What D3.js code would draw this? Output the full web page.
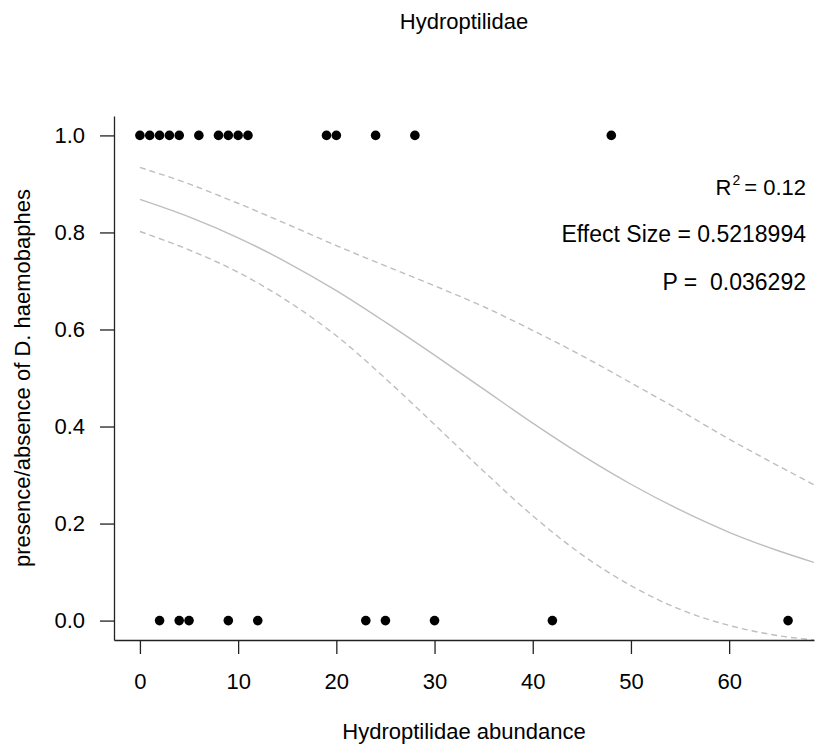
<!DOCTYPE html>
<html>
<head>
<meta charset="utf-8">
<script src="https://cdn.jsdelivr.net/npm/d3@7/dist/d3.min.js"></script>
<style>
  body { margin: 0; background: #fff; }
  text { font-family: "Liberation Sans", Arial, sans-serif; fill: #000; }
</style>
</head>
<body>
<svg></svg>
<script>
// observed abundance where D. haemobaphes present (1) / absent (0)
var presentX = [0, 1, 2, 3, 4, 6, 8, 9, 10, 11, 19, 20, 24, 28, 48];
var absentX = [2, 4, 5, 9, 12, 23, 25, 30, 42, 66];

// fitted curve and confidence band
var fitX     = [0, 5, 10, 15, 20, 25, 30, 35, 40, 45, 50, 55, 60, 65, 68.64];
var fitMean  = [0.868, 0.832, 0.789, 0.738, 0.680, 0.615, 0.547, 0.477, 0.407, 0.341, 0.281, 0.228, 0.182, 0.144, 0.120];
var fitUpper = [0.934, 0.900, 0.860, 0.817, 0.773, 0.731, 0.690, 0.647, 0.598, 0.546, 0.490, 0.433, 0.374, 0.319, 0.280];
var fitLower = [0.802, 0.764, 0.718, 0.659, 0.587, 0.499, 0.404, 0.308, 0.216, 0.136, 0.072, 0.023, -0.010, -0.031, -0.040];

var xTicks = [0, 10, 20, 30, 40, 50, 60];
var yTicks = [0, 0.2, 0.4, 0.6, 0.8, 1.0];

var annotations = ["Effect Size = 0.5218994", "P =  0.036292"];

var margin = {top: 116, right: 4, bottom: 112, left: 114},
    width = 818 - margin.left - margin.right,
    height = 752 - margin.top - margin.bottom;

var root = d3.select("svg")
    .attr("width", 818)
    .attr("height", 752);

var svg = root.append("g")
    .attr("transform", "translate(" + margin.left + "," + margin.top + ")");

// R style 4% padding around the data range
var allX = presentX.concat(absentX);
var xExt = d3.extent(allX);
var xPad = (xExt[1] - xExt[0]) * 0.04;

var xScale = d3.scaleLinear()
    .domain([xExt[0] - xPad, xExt[1] + xPad])
    .range([0, width]);

var yScale = d3.scaleLinear()
    .domain([-0.04, 1.04])
    .range([height, 0]);

svg.append("clipPath")
    .attr("id", "clip")
  .append("rect")
    .attr("width", width)
    .attr("height", height);

var line = d3.line()
    .x(function(d) { return xScale(d.x); })
    .y(function(d) { return yScale(d.y); })
    .curve(d3.curveMonotoneX);

function pairs(vals) {
  return fitX.map(function(x, i) { return {x: x, y: vals[i]}; });
}

svg.append("path")
    .attr("d", line(pairs(fitMean)))
    .attr("clip-path", "url(#clip)")
    .style("fill", "none")
    .style("stroke", "#bebebe")
    .style("stroke-width", 1.4);

[fitUpper, fitLower].forEach(function(band) {
  svg.append("path")
      .attr("d", line(pairs(band)))
      .attr("clip-path", "url(#clip)")
      .style("fill", "none")
      .style("stroke", "#bebebe")
      .style("stroke-width", 1.4)
      .style("stroke-dasharray", "6,4");
});

// points
svg.selectAll(".pt1")
    .data(presentX)
  .enter().append("circle")
    .attr("cx", function(d) { return xScale(d); })
    .attr("cy", yScale(1))
    .attr("r", 4.8)
    .style("fill", "#000");

svg.selectAll(".pt0")
    .data(absentX)
  .enter().append("circle")
    .attr("cx", function(d) { return xScale(d); })
    .attr("cy", yScale(0))
    .attr("r", 4.8)
    .style("fill", "#000");

// axes (bty = "l")
var xAxis = svg.append("g")
    .attr("transform", "translate(0," + height + ")")
    .call(d3.axisBottom(xScale).tickValues(xTicks).tickSizeInner(14).tickSizeOuter(0).tickPadding(19));

var yAxis = svg.append("g")
    .call(d3.axisLeft(yScale).tickValues(yTicks).tickFormat(d3.format(".1f")).tickSizeInner(14).tickSizeOuter(0).tickPadding(15));

[xAxis, yAxis].forEach(function(ax) {
  ax.selectAll("path, line").style("stroke", "#222").style("stroke-width", 1.3);
  ax.selectAll("text")
      .style("font-size", "22px")
      .style("font-family", "'Liberation Sans', Arial, sans-serif")
      .style("fill", "#000");
});

// titles
root.append("text")
    .attr("x", margin.left + width / 2)
    .attr("y", 29)
    .attr("text-anchor", "middle")
    .style("font-size", "22px")
    .text("Hydroptilidae");

root.append("text")
    .attr("x", margin.left + width / 2)
    .attr("y", 739)
    .attr("text-anchor", "middle")
    .style("font-size", "22px")
    .text("Hydroptilidae abundance");

root.append("text")
    .attr("transform", "translate(30," + (margin.top + height / 2) + ") rotate(-90)")
    .attr("text-anchor", "middle")
    .style("font-size", "22px")
    .text("presence/absence of D. haemobaphes");

// stats text, right aligned
var r2 = root.append("text")
    .attr("x", 806)
    .attr("y", 195)
    .attr("text-anchor", "end")
    .style("font-size", "22px");
r2.append("tspan").text("R");
r2.append("tspan").attr("dy", -10).attr("dx", 1).style("font-size", "14px").text("2");
r2.append("tspan").attr("dy", 10).attr("dx", 4).text("= 0.12");

root.selectAll(".note")
    .data(annotations)
  .enter().append("text")
    .attr("x", 806)
    .attr("y", function(d, i) { return 242 + i * 48; })
    .attr("text-anchor", "end")
    .style("font-size", "23px")
    .style("white-space", "pre")
    .attr("xml:space", "preserve")
    .text(function(d) { return d; });
</script>
</body>
</html>
